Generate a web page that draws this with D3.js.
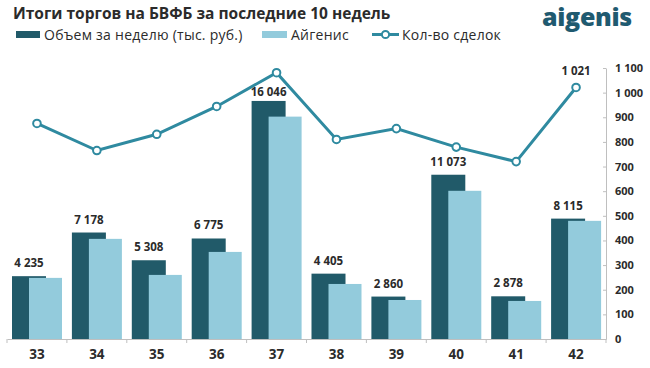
<!DOCTYPE html>
<html><head><meta charset="utf-8">
<script src="https://cdn.jsdelivr.net/npm/d3@7"></script>
<style>body{margin:0;background:#fff}svg{display:block}</style>
</head><body>
<svg id="c" width="650" height="368"></svg>
<script>
const weeks = ["33","34","35","36","37","38","39","40","41","42"];
const volume = [4235, 7178, 5308, 6775, 16046, 4405, 2860, 11073, 2878, 8115];
const aigenis = [4120, 6750, 4320, 5870, 14990, 3710, 2630, 9990, 2565, 7965];
const deals = [875, 765, 831, 944, 1081, 810, 854, 779, 720, 1021];
const rightTicks = [0,100,200,300,400,500,600,700,800,900,1000,1100];

const C_DARK = "#215a69", C_LIGHT = "#93cbdc", C_LINE = "#2f8aa0", C_TEXT = "#2b2b2b";
const FONT = "Open Sans, sans-serif";
const fmt = v => d3.format(",")(v).replace(/,/g, " ");

const svg = d3.select("#c");
const x = d3.scaleBand().domain(weeks).range([7, 606]);
const yBar = d3.scaleLinear().domain([0, 18200]).range([339, 69]);
const yLine = d3.scaleLinear().domain([0, 1100]).range([339, 68]);

// title
svg.append("text").attr("x", 13).attr("y", 18.5).attr("font-family", FONT).attr("font-weight", 700)
  .attr("font-size", 15.5).attr("fill", C_TEXT).text("Итоги торгов на БВФБ за последние 10 недель");
// logo
svg.append("text").attr("x", 632).attr("y", 26).attr("text-anchor", "end").attr("font-family", FONT)
  .attr("font-weight", 800).attr("font-size", 25).attr("fill", "#1f5a70").attr("letter-spacing", -0.3).text("aigenis");

// legend
const lg = svg.append("g").attr("font-family", FONT).attr("font-size", 14).attr("letter-spacing", 0.25).attr("fill", C_TEXT);
lg.append("rect").attr("x", 16).attr("y", 31).attr("width", 24).attr("height", 7).attr("fill", C_DARK);
lg.append("text").attr("x", 44).attr("y", 39.5).text("Объем за неделю (тыс. руб.)");
lg.append("rect").attr("x", 262).attr("y", 31).attr("width", 25).attr("height", 7).attr("fill", C_LIGHT);
lg.append("text").attr("x", 291).attr("y", 39.5).text("Айгенис");
lg.append("line").attr("x1", 372).attr("x2", 399).attr("y1", 34.5).attr("y2", 34.5).attr("stroke", C_LINE).attr("stroke-width", 3);
lg.append("circle").attr("cx", 385.5).attr("cy", 34.5).attr("r", 3.6).attr("fill", "#fff").attr("stroke", C_LINE).attr("stroke-width", 2);
lg.append("text").attr("x", 402).attr("y", 39.5).text("Кол-во сделок");

// bars
const bw = x.bandwidth();
const g = svg.append("g");
g.selectAll("rect.d").data(weeks).join("rect").attr("class", "d")
  .attr("x", d => x(d) + 5).attr("width", 34)
  .attr("y", (d, i) => yBar(volume[i])).attr("height", (d, i) => yBar(0) - yBar(volume[i])).attr("fill", C_DARK);
g.selectAll("rect.l").data(weeks).join("rect").attr("class", "l")
  .attr("x", d => x(d) + 22).attr("width", 33)
  .attr("y", (d, i) => yBar(aigenis[i])).attr("height", (d, i) => yBar(0) - yBar(aigenis[i])).attr("fill", C_LIGHT);
g.selectAll("text.v").data(weeks).join("text").attr("class", "v")
  .attr("x", d => x(d) + 22).attr("y", (d, i) => Math.max(yBar(volume[i]) - 9, 96))
  .attr("text-anchor", "middle").attr("font-family", FONT).attr("font-weight", 700).attr("font-size", 11.5)
  .attr("fill", C_TEXT).text((d, i) => fmt(volume[i]));

// x axis
const xa = svg.append("g").attr("transform", "translate(0,339)")
  .call(d3.axisBottom(x).tickSize(0).tickPadding(10));
xa.select(".domain").attr("stroke", "#bfbfbf");
xa.selectAll("text").attr("font-family", FONT).attr("font-weight", 700).attr("font-size", 13.5).attr("fill", C_TEXT);
xa.selectAll("line.b").data(weeks.concat(["end"])).join("line").attr("class", "b")
  .attr("x1", (d, i) => i < weeks.length ? x(d) : x.range()[1])
  .attr("x2", (d, i) => i < weeks.length ? x(d) : x.range()[1])
  .attr("y1", 0).attr("y2", 4).attr("stroke", "#bfbfbf");

// right axis
const ya = svg.append("g").attr("transform", "translate(606,0)")
  .call(d3.axisRight(yLine).tickValues(rightTicks).tickSizeInner(-3).tickSizeOuter(0).tickPadding(9)
    .tickFormat(d => fmt(d)));
ya.select(".domain").attr("stroke", "#bfbfbf");
ya.selectAll("line").attr("stroke", "#bfbfbf");
ya.selectAll("text").attr("font-family", FONT).attr("font-weight", 700).attr("font-size", 11).attr("fill", C_TEXT);

// line
const cx = d => x(d) + bw / 2;
svg.append("path").datum(weeks).attr("fill", "none").attr("stroke", C_LINE).attr("stroke-width", 3)
  .attr("d", d3.line().x(d => cx(d)).y((d, i) => yLine(deals[i])));
svg.selectAll("circle.p").data(weeks).join("circle").attr("class", "p")
  .attr("cx", d => cx(d)).attr("cy", (d, i) => yLine(deals[i])).attr("r", 3.8)
  .attr("fill", "#fff").attr("stroke", C_LINE).attr("stroke-width", 2);
const li = deals.length - 1;
svg.append("text").attr("x", cx(weeks[li])).attr("y", yLine(deals[li]) - 12).attr("text-anchor", "middle")
  .attr("font-family", FONT).attr("font-weight", 700).attr("font-size", 11.5).attr("fill", C_TEXT).text(fmt(deals[li]));
</script>
</body></html>
